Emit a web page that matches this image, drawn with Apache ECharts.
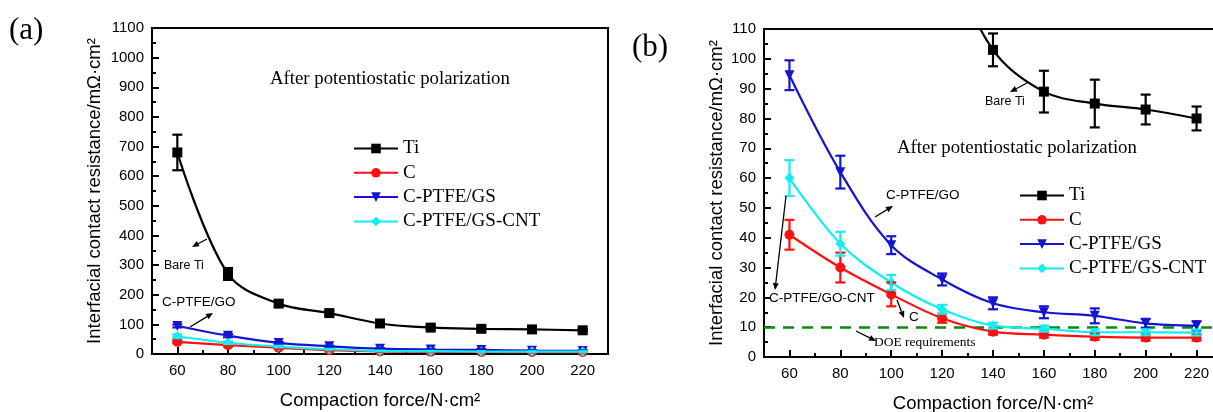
<!DOCTYPE html>
<html><head><meta charset="utf-8">
<script src="https://cdn.jsdelivr.net/npm/echarts@6/dist/echarts.min.js"></script>
<style>html,body{margin:0;padding:0;background:#fff}#c{width:1213px;height:412px}</style>
</head><body><div id="c"></div>
<script>
// ---- data ----
const forces = [60, 80, 100, 120, 140, 160, 180, 200, 220];
const tickValues = [60, 80, 100, 120, 140, 160, 180, 200, 220];
const tiVals   = [680, 270, 170, 138, 103, 89, 85, 83, 80];
const tiErr    = [60, 20, 10, 7, 5.5, 7, 8, 5, 4];
const cVals    = [41, 30, 21, 13, 8.5, 7.5, 6.8, 6.5, 6.5];
const cErr     = [5, 5, 4, 1.5, 1, 1, 1, 1, 1];
const gsVals   = [94.5, 62, 37.5, 26, 18, 15, 13.8, 11.3, 10.5];
const gsErr    = [5, 5.5, 3, 2, 2, 2, 2.5, 1.5, 1.5];
const cntVals  = [60, 38, 25, 16, 10.5, 9.5, 8.3, 8.3, 8.2];
const cntErr   = [6, 4, 2.5, 1.5, 1, 1, 1, 1, 1];
const doeLimit = 10;
const seriesNames = ['Ti', 'C', 'C-PTFE/GS', 'C-PTFE/GS-CNT'];

const colors = {Ti: '#000000', C: '#ff1010', 'C-PTFE/GS': '#1414d2', 'C-PTFE/GS-CNT': '#10eef0'};
const symbols = {Ti: 'rect', C: 'circle', 'C-PTFE/GS': 'triangle', 'C-PTFE/GS-CNT': 'diamond'};
const symRot = {Ti: 0, C: 0, 'C-PTFE/GS': 180, 'C-PTFE/GS-CNT': 0};
const vals = {Ti: tiVals, C: cVals, 'C-PTFE/GS': gsVals, 'C-PTFE/GS-CNT': cntVals};
const errs = {Ti: tiErr, C: cErr, 'C-PTFE/GS': gsErr, 'C-PTFE/GS-CNT': cntErr};

const SANS = 'Liberation Sans, Arial, sans-serif';
const SERIF = 'Liberation Serif, Times New Roman, serif';

function lineSeries(name, gi, extra) {
  return Object.assign({
    type: 'line', name: name, xAxisIndex: gi * 2, yAxisIndex: gi,
    data: forces.map((f, i) => [f, vals[name][i]]),
    smooth: 0.35, symbol: symbols[name], symbolRotate: symRot[name], symbolSize: 10,
    showAllSymbol: true, clip: true,
    itemStyle: {color: colors[name]}, lineStyle: {color: colors[name], width: 2.2},
    z: 3
  }, extra || {});
}
function errSeries(name, gi) {
  return {
    type: 'custom', name: name + ' err' + gi, xAxisIndex: gi * 2, yAxisIndex: gi, clip: true,
    data: forces.map((f, i) => [f, vals[name][i] - errs[name][i], vals[name][i] + errs[name][i]]),
    renderItem: function (params, api) {
      const x = api.value(0);
      const p1 = api.coord([x, api.value(1)]);
      const p2 = api.coord([x, api.value(2)]);
      const w = 5;
      const st = {stroke: colors[name], lineWidth: 2.2};
      return {type: 'group', children: [
        {type: 'line', shape: {x1: p1[0], y1: p1[1], x2: p2[0], y2: p2[1]}, style: st},
        {type: 'line', shape: {x1: p1[0] - w, y1: p1[1], x2: p1[0] + w, y2: p1[1]}, style: st},
        {type: 'line', shape: {x1: p2[0] - w, y1: p2[1], x2: p2[0] + w, y2: p2[1]}, style: st}
      ]};
    },
    z: 4
  };
}

function xAxes(gi) {
  const base = {type: 'value', gridIndex: gi, min: 50, max: 230, position: 'bottom',
    axisLine: {show: true, onZero: false, lineStyle: {color: '#000', width: 2}},
    splitLine: {show: false}};
  return [
    Object.assign({}, base, {
      name: 'Compaction force/N·cm²', nameLocation: 'middle', nameGap: 37,
      nameTextStyle: {fontFamily: SANS, fontSize: 18.5, color: '#000'},
      axisTick: {show: true, inside: true, length: 7, customValues: tickValues, lineStyle: {color: '#000', width: 2}},
      axisLabel: {show: true, customValues: tickValues, margin: 9, fontFamily: SANS, fontSize: 15, color: '#000'}
    }),
    Object.assign({}, base, {
      interval: 10, axisLine: {show: false},
      axisTick: {show: true, inside: true, length: 4, lineStyle: {color: '#000', width: 2}},
      axisLabel: {show: false}
    })
  ];
}
function yAxis(gi, max, interval, gap) {
  return {type: 'value', gridIndex: gi, min: 0, max: max, interval: interval,
    name: 'Interfacial contact resistance/mΩ·cm²', nameLocation: 'middle', nameGap: gap,
    nameTextStyle: {fontFamily: SANS, fontSize: 18.5, color: '#000'},
    axisLine: {show: true, lineStyle: {color: '#000', width: 2}},
    axisTick: {show: true, inside: true, length: 7, lineStyle: {color: '#000', width: 2}},
    minorTick: {show: true, splitNumber: 2, length: 4, lineStyle: {color: '#000', width: 2}},
    axisLabel: {margin: 8, fontFamily: SANS, fontSize: 15, color: '#000', formatter: v => String(v)},
    splitLine: {show: false}};
}

function arrow(x1, y1, x2, y2) {
  const a = Math.atan2(y2 - y1, x2 - x1), L = 7, W = 3;
  const bx = x2 - L * Math.cos(a), by = y2 - L * Math.sin(a);
  const px = -Math.sin(a) * W, py = Math.cos(a) * W;
  return [
    {type: 'line', shape: {x1: x1, y1: y1, x2: bx, y2: by}, style: {stroke: '#000', lineWidth: 1.3}, z: 10},
    {type: 'polygon', shape: {points: [[x2, y2], [bx + px, by + py], [bx - px, by - py]]}, style: {fill: '#000'}, z: 10}
  ];
}
function txt(x, y, s, size, fam) {
  return {type: 'text', x: x, y: y, z: 10,
    style: {text: s, fontSize: size, fontFamily: fam, fill: '#000', verticalAlign: 'middle', align: 'left'}};
}

const series = [];
seriesNames.forEach(n => { series.push(lineSeries(n, 0)); series.push(errSeries(n, 0)); });
seriesNames.forEach((n, k) => {
  const extra = {};
  if (k === 0) {
    extra.markLine = {silent: true, symbol: ['none', 'none'], label: {show: false},
      lineStyle: {color: '#0a8a0a', type: [11, 8], width: 2.5}, data: [{yAxis: doeLimit}], z: 2};
  }
  series.push(lineSeries(n, 1, extra));
  series.push(errSeries(n, 1));
});

const graphics = [
  txt(9, 31, '(a)', 31, SERIF),
  txt(632, 48, '(b)', 31, SERIF),
  txt(270, 79, 'After potentiostatic polarization', 18.8, SERIF),
  txt(897, 148, 'After potentiostatic polarization', 18.8, SERIF),
  txt(164, 266, 'Bare Ti', 12.5, SANS),
  txt(162, 302, 'C-PTFE/GO', 13.5, SANS),
  txt(985, 102, 'Bare Ti', 12.5, SANS),
  txt(886, 195, 'C-PTFE/GO', 13.5, SANS),
  txt(769, 298, 'C-PTFE/GO-CNT', 13.5, SANS),
  txt(909, 317, 'C', 13.5, SANS),
  txt(874, 342, 'DOE requirements', 13.5, SERIF)
].concat(
  arrow(207, 239, 192, 247),
  arrow(190, 327, 213, 313),
  arrow(1027, 83, 1010, 92),
  arrow(875, 217, 893, 206),
  arrow(786, 196, 775, 290),
  arrow(897, 300, 904, 318),
  arrow(856, 331, 876, 341)
);

const legendBase = {orient: 'vertical', data: seriesNames, itemWidth: 44, itemHeight: 12, itemGap: 5.3, padding: 0,
  textStyle: {fontFamily: SERIF, fontSize: 19, color: '#000'}, selectedMode: false};

const chart = echarts.init(document.getElementById('c'), null, {renderer: 'canvas'});
chart.setOption({
  animation: false,
  backgroundColor: '#fff',
  grid: [
    {left: 152, right: 605, top: 28, bottom: 58, show: true, borderColor: '#000', borderWidth: 2,
     backgroundColor: 'transparent', outerBoundsMode: 'none', containLabel: false},
    {left: 764, right: -9, top: 29, bottom: 55, show: true, borderColor: '#000', borderWidth: 2,
     backgroundColor: 'transparent', outerBoundsMode: 'none', containLabel: false}
  ],
  xAxis: xAxes(0).concat(xAxes(1)),
  yAxis: [yAxis(0, 1100, 100, 48), yAxis(1, 110, 10, 38)],
  legend: [
    Object.assign({}, legendBase, {left: 353, top: 139}),
    Object.assign({}, legendBase, {left: 1019, top: 186, backgroundColor: '#fff'})
  ],
  series: series,
  graphic: graphics
});
</script>
</body></html>
